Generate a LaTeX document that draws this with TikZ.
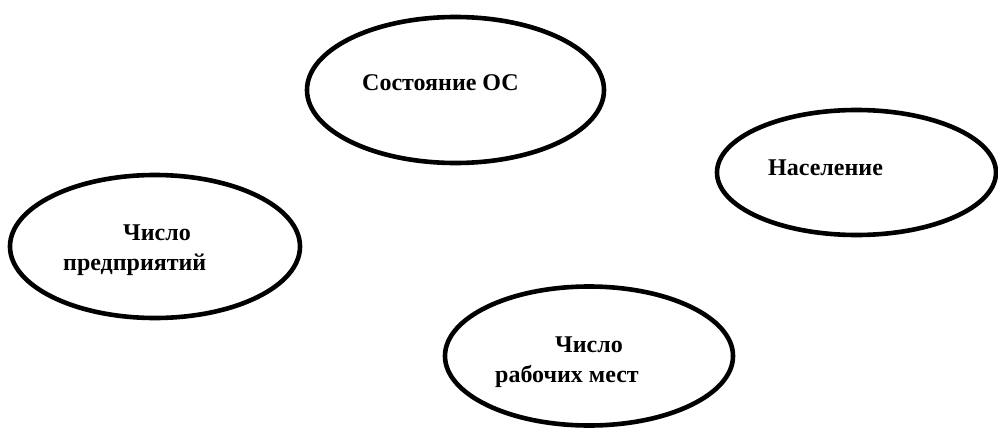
\documentclass[tikz,border=0pt]{standalone}
\usepackage{fontspec}
\setmainfont{Liberation Serif}
\newfontfamily\tnr{Liberation Serif}
\usetikzlibrary{shapes.geometric}
\begin{document}
\begin{tikzpicture}[x=1pt,y=-1pt,
  oval/.style={draw=black,line width=4.6pt,ellipse,inner sep=0pt,outer sep=0pt},
  lbl/.style={anchor=base west,inner sep=0pt,font=\tnr\fontsize{24}{28}\selectfont\bfseries}]
\useasboundingbox[fill=white] (0,0) rectangle (998,428);
\clip (0,0) rectangle (998,428);
\node[oval,minimum width=297pt,minimum height=146pt] (e1) at (455.5,90) {};
\node[oval,minimum width=279pt,minimum height=125pt] (e2) at (856.5,172.5) {};
\node[oval,minimum width=290pt,minimum height=143pt] (e3) at (155,246.5) {};
\node[oval,minimum width=288pt,minimum height=139pt] (e4) at (589,356) {};
\node[lbl] (t1) at (362,90) {Состояние ОС};
\node[lbl] (t2) at (768,175) {Население};
\node[lbl] (t3a) at (123,240) {Число};
\node[lbl] (t3b) at (63,270) {предприятий};
\node[lbl] (t4a) at (555,352) {Число};
\node[lbl] (t4b) at (495,382) {рабочих мест};
\end{tikzpicture}
\end{document}
